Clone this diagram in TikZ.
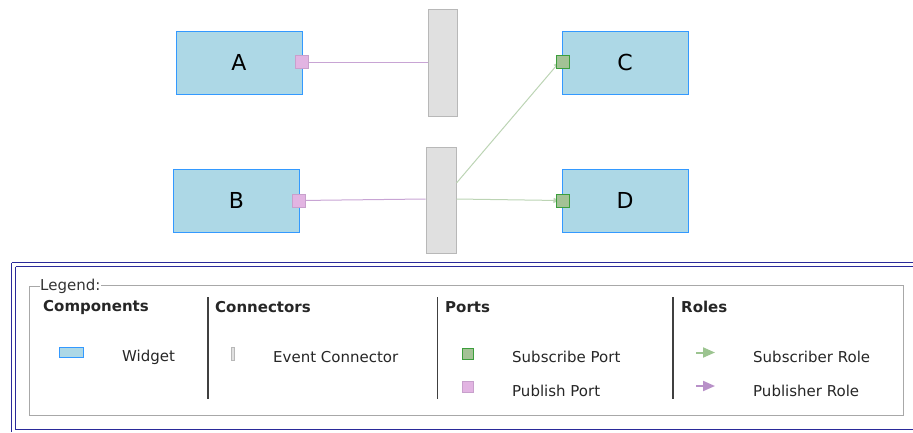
\documentclass[tikz,border=0pt]{standalone}
\usepackage{fontspec}
\setmainfont{DejaVu Sans}
\usetikzlibrary{arrows.meta}
\definecolor{wfill}{HTML}{ADD8E6}
\definecolor{wdraw}{HTML}{3399FF}
\definecolor{cfill}{HTML}{E0E0E0}
\definecolor{cdraw}{HTML}{B8B8B8}
\definecolor{subfill}{HTML}{A3C295}
\definecolor{subdraw}{HTML}{3C9E3C}
\definecolor{pubfill}{HTML}{E2B4E2}
\definecolor{pubdraw}{HTML}{C8A0CC}
\definecolor{subline}{HTML}{BCD4B4}
\definecolor{publine}{HTML}{C8A4D4}
\definecolor{subarrow}{HTML}{9CC490}
\definecolor{pubarrow}{HTML}{B890C8}
\definecolor{legblue}{HTML}{2A2A9A}
\definecolor{leggray}{HTML}{A8A8A8}
\definecolor{sepgray}{HTML}{404040}
\definecolor{txt}{HTML}{262626}
\tikzset{
  widget/.style={draw=wdraw, fill=wfill, line width=1pt, minimum width=126pt, minimum height=63pt, inner sep=0pt, font=\fontsize{22}{24}\selectfont},
  evconn/.style={draw=cdraw, fill=cfill, line width=1pt, minimum width=29pt, minimum height=107pt, inner sep=0pt},
  subport/.style={draw=subdraw, fill=subfill, line width=1pt, minimum size=13pt, inner sep=0pt},
  pubport/.style={draw=pubdraw, fill=pubfill, line width=1pt, minimum size=13pt, inner sep=0pt},
  publink/.style={draw=publine, line width=1pt},
  sublink/.style={draw=subline, line width=1pt, -{Triangle[length=6pt,width=5pt]}},
  legtext/.style={text=txt, anchor=west, inner sep=0pt, font=\fontsize{15}{17}\selectfont},
  leghead/.style={text=txt, anchor=west, inner sep=0pt, font=\fontsize{15}{17}\selectfont\bfseries},
  sep/.style={draw=sepgray, line width=1.2pt},
  rolearrow/.style={line width=2pt, -{Triangle[length=12pt,width=10pt]}},
}
\begin{document}
\begin{tikzpicture}[x=1pt,y=-1pt]
\useasboundingbox (0,0) rectangle (913,432);
% components
\node[widget] (A) at (239,62.5) {A};
\node[widget] (B) at (236.5,200.5) {B};
\node[widget] (C) at (625,62.5) {C};
\node[widget] (D) at (625,200.5) {D};
% connectors
\node[evconn] (c1) at (442.5,62.5) {};
\node[evconn, minimum width=30pt, minimum height=106pt] (c2) at (441,200) {};
% ports coordinates
\coordinate (pAc) at (302,62);
\coordinate (pBc) at (299,200.5);
\coordinate (pCc) at (562.5,62);
\coordinate (pDc) at (562.5,200.5);
% links
\draw[publink] (pAc) -- (c1.west |- pAc);
\draw[publink] (pBc) -- ([yshift=1pt]c2.west);
\draw[sublink] ([yshift=17pt]c2.east) -- ([xshift=-3pt]pCc);
\draw[sublink] ([yshift=1pt]c2.east) -- ([xshift=-3pt]pDc);
% ports
\node[pubport] (pA) at (pAc) {};
\node[pubport] (pB) at (pBc) {};
\node[subport] (pC) at (pCc) {};
\node[subport] (pD) at (pDc) {};
% legend frame
\draw[legblue, line width=1pt] (11.5,262.5) -- (925,262.5);
\draw[legblue, line width=1pt] (11.5,262.5) -- (11.5,432);
\draw[legblue, line width=1pt] (15.5,266.5) -- (925,266.5);
\draw[legblue, line width=1pt] (15.5,266.5) -- (15.5,429.5) -- (925,429.5);
% inner gray box
\node[legtext, text=sepgray!80!black] (leg) at (40,286) {Legend:};
\draw[leggray, line width=1pt] (leg.west) -- (29.5,286) -- (29.5,415.5) -- (903,415.5) -- (903,285.5) -- (leg.east |- 0,285.5);
% separators
\draw[sep] (208,297) -- (208,399);
\draw[sep] (437.5,297) -- (437.5,399);
\draw[sep] (673,297) -- (673,399);
% headings
\node[leghead] (h1) at (43,307) {Components};
\node[leghead] (h2) at (215,307) {Connectors};
\node[leghead] (h3) at (445,307) {Ports};
\node[leghead] (h4) at (681,307) {Roles};
% legend items
\node[draw=wdraw, fill=wfill, line width=1.2pt, minimum width=24pt, minimum height=10pt, inner sep=0pt] (iw) at (71.5,352.5) {};
\node[legtext] (tw) at (122,357) {Widget};
\node[draw=cdraw, fill=cfill, line width=1pt, minimum width=3pt, minimum height=13pt, inner sep=0pt] (ic) at (233,354) {};
\node[legtext] (tc) at (273,357) {Event Connector};
\node[subport, minimum size=11pt] (isp) at (467.5,353.5) {};
\node[legtext] (tsp) at (512,357) {Subscribe Port};
\node[pubport, minimum size=11pt] (ipp) at (467.5,386.5) {};
\node[legtext] (tpp) at (512,391) {Publish Port};
\coordinate (sr1) at (696,352.5);
\coordinate (sr2) at (715,352.5);
\draw[rolearrow, draw=subarrow, fill=subarrow] (sr1) -- (sr2);
\node[legtext] (tsr) at (753,357) {Subscriber Role};
\coordinate (pr1) at (696,386);
\coordinate (pr2) at (715,386);
\draw[rolearrow, draw=pubarrow, fill=pubarrow] (pr1) -- (pr2);
\node[legtext] (tpr) at (753,391) {Publisher Role};
\end{tikzpicture}
\end{document}
